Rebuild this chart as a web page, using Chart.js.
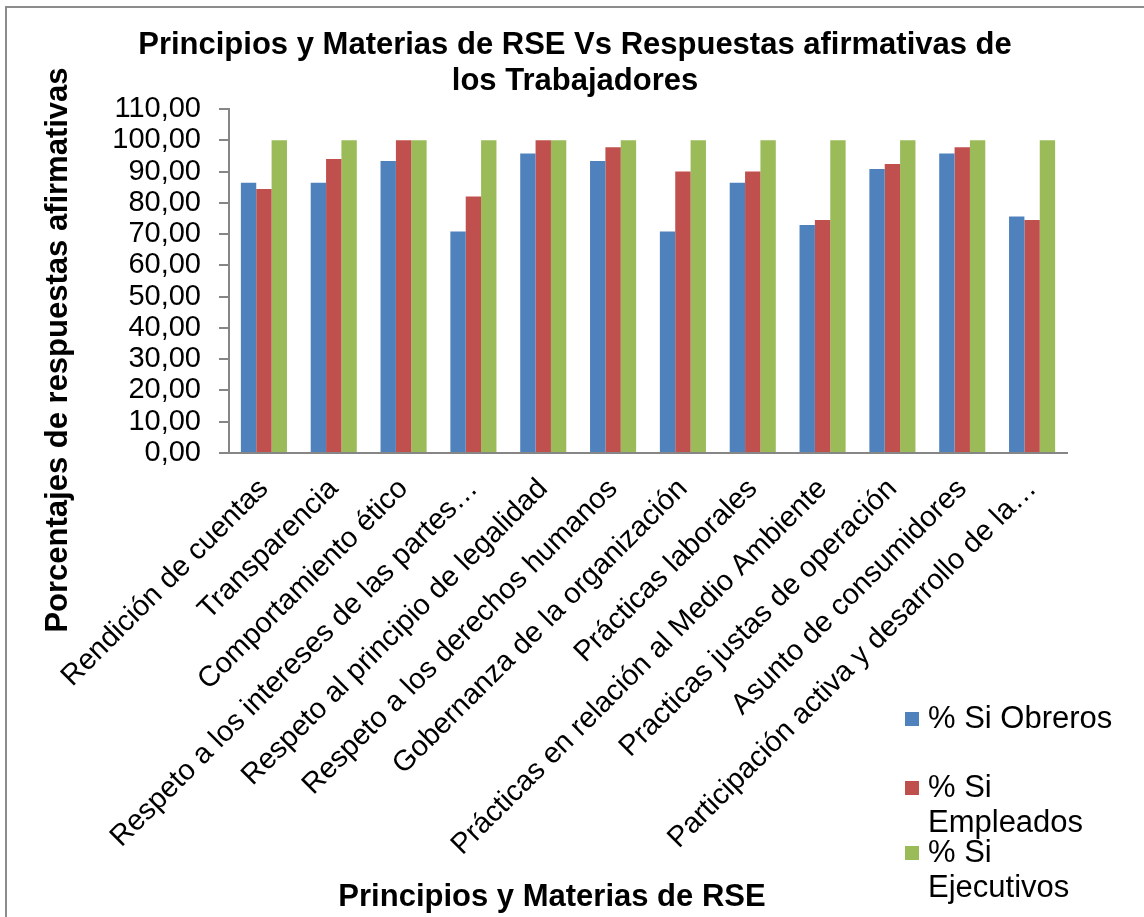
<!DOCTYPE html>
<html>
<head>
<meta charset="utf-8">
<script src="https://cdn.jsdelivr.net/npm/chart.js@4.4.1/dist/chart.umd.min.js"></script>
<style>
  html, body { margin: 0; padding: 0; background: #fff; }
  #wrap { width: 1144px; height: 917px; }
</style>
</head>
<body>
<div id="wrap"><canvas id="myChart" width="1144" height="917"></canvas></div>
<script>
// datos
var categorias = [
    'Rendición de cuentas',
    'Transparencia',
    'Comportamiento ético',
    'Respeto a los intereses de las partes…',
    'Respeto al principio de legalidad',
    'Respeto a los derechos humanos',
    'Gobernanza de la organización',
    'Prácticas laborales',
    'Prácticas en relación al Medio Ambiente',
    'Practicas justas de operación',
    'Asunto de consumidores',
    'Participación activa y desarrollo de la…'
];
var siObreros    = [86.4, 86.4, 93.4, 70.8, 95.8, 93.4, 70.8, 86.4, 72.9, 90.8, 95.8, 75.6];
var siEmpleados  = [84.4, 94.0, 100, 82.0, 100, 97.8, 90.0, 90.0, 74.5, 92.4, 97.8, 74.5];
var siEjecutivos = [100, 100, 100, 100, 100, 100, 100, 100, 100, 100, 100, 100];
var series = ['% Si Obreros', '% Si Empleados', '% Si Ejecutivos'];

var tituloGrafico = ['Principios y Materias de RSE Vs Respuestas afirmativas de', 'los Trabajadores'];
var tituloX = 'Principios y Materias de RSE';
var tituloY = 'Porcentajes de respuestas afirmativas';

var fuente = '"Liberation Sans", Arial, sans-serif';

//***********************************************************************************
// titulos, leyenda y marco
//***********************************************************************************
var decorado = {
    id: 'decorado',
    afterDraw: function(chart) {
        var c = chart.ctx;
        c.save();
        // marco (solo arriba e izquierda se ven)
        c.strokeStyle = '#8c8c8c';
        c.lineWidth = 2;
        c.beginPath();
        c.moveTo(6, 917);
        c.lineTo(6, 7);
        c.lineTo(1144, 7);
        c.stroke();

        c.fillStyle = '#000';
        c.textAlign = 'center';
        c.textBaseline = 'middle';
        c.font = 'bold 31px ' + fuente;
        tituloGrafico.forEach(function(t, i) { c.fillText(t, 575, 45 + i * 36); });
        c.fillText(tituloX, 552, 897);
        c.save();
        c.translate(58, 350);
        c.rotate(-Math.PI / 2);
        c.fillText(tituloY, 0, 0);
        c.restore();

        // leyenda
        c.font = '31px ' + fuente;
        c.textAlign = 'left';
        var inicios = [719, 788, 853];
        chart.data.datasets.forEach(function(ds, i) {
            var palabras = ds.label.split(' ');
            var lineas = [], linea = '';
            palabras.forEach(function(p) {
                var prueba = linea ? linea + ' ' + p : p;
                if (linea && c.measureText(prueba).width > 200) { lineas.push(linea); linea = p; }
                else linea = prueba;
            });
            lineas.push(linea);
            c.fillStyle = ds.backgroundColor;
            c.fillRect(905, inicios[i] - 7, 14, 14);
            c.fillStyle = '#000';
            lineas.forEach(function(l, j) { c.fillText(l, 928, inicios[i] + j * 35); });
        });
        c.restore();
    }
};

var ctx = document.getElementById('myChart').getContext('2d');

var myBarChart = new Chart(ctx, {
    type: 'bar',
    data: {
        labels: categorias,
        datasets: [
            { label: series[0], data: siObreros,    backgroundColor: '#4F81BD' },
            { label: series[1], data: siEmpleados,  backgroundColor: '#C0504D' },
            { label: series[2], data: siEjecutivos, backgroundColor: '#9BBB59' }
        ]
    },
    options: {
        responsive: false,
        animation: false,
        layout: { padding: { left: 0, top: 109, right: 77, bottom: 0 } },
        datasets: { bar: { barPercentage: 1, categoryPercentage: 0.66 } },
        plugins: {
            legend: { display: false },
            title: { display: false },
            tooltip: { enabled: false }
        },
        scales: {
            x: {
                grid: { display: false },
                border: { display: true, color: '#868686', width: 2 },
                ticks: {
                    color: '#000',
                    font: { family: fuente, size: 29 },
                    maxRotation: 45,
                    minRotation: 45,
                    autoSkip: false,
                    padding: 11
                },
                afterFit: function(s) { s.height = 917 - 453; }
            },
            y: {
                min: 0,
                max: 110,
                grid: { drawOnChartArea: false, color: '#868686', tickLength: 10, lineWidth: 2 },
                border: { display: true, color: '#868686', width: 2 },
                ticks: {
                    stepSize: 10,
                    autoSkip: false,
                    color: '#000',
                    padding: 18,
                    font: { family: fuente, size: 29 },
                    callback: function(v) { return v.toFixed(2).replace('.', ','); }
                },
                afterFit: function(s) { s.width = 229; }
            }
        }
    },
    plugins: [decorado]
});
</script>
</body>
</html>
